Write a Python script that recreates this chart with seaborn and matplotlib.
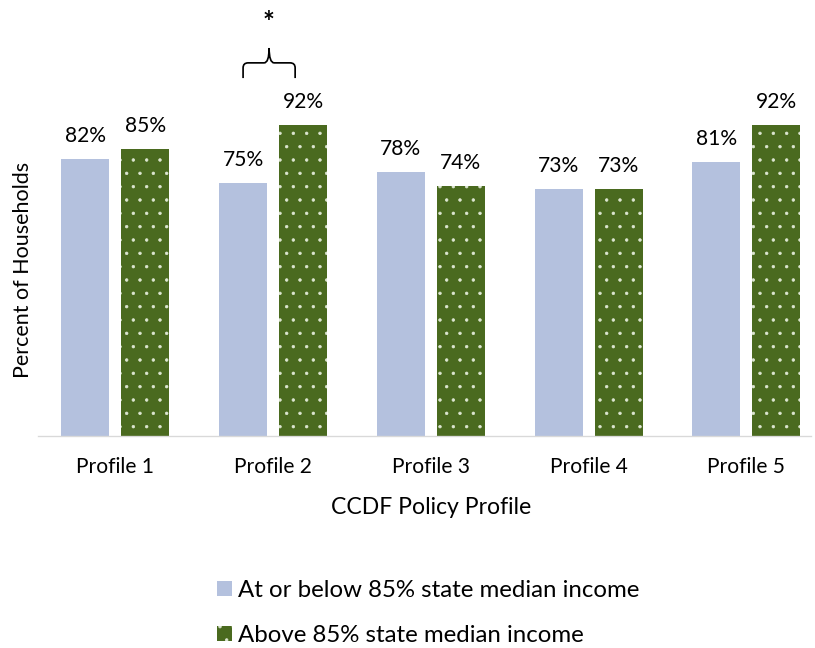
import matplotlib
matplotlib.use("Agg")
import matplotlib.pyplot as plt
from matplotlib.patches import Patch, PathPatch
from matplotlib.path import Path
import seaborn as sns
import pandas as pd

# ---- data ----
profiles = ["Profile 1", "Profile 2", "Profile 3", "Profile 4", "Profile 5"]
below_85 = [82, 75, 78, 73, 81]
above_85 = [85, 92, 74, 73, 92]
series_names = ["At or below 85% state median income", "Above 85% state median income"]
x_title = "CCDF Policy Profile"
y_title = "Percent of Households"

# ---- style ----
DPI = 80
def px(n):
    return n * 72.0 / DPI

LIGHT = "#B4C1DE"
GREEN = "#4A6A1F"
DOT = "#DDE6D2"

sns.set_style("white")
plt.rcParams["font.family"] = ["Lato", "DejaVu Sans"]
plt.rcParams["hatch.linewidth"] = 0.6
plt.rcParams["text.color"] = "black"

df = pd.DataFrame({
    "Profile": profiles * 2,
    "Percent": below_85 + above_85,
    "Income": [series_names[0]] * len(profiles) + [series_names[1]] * len(profiles),
})

fig = plt.figure(figsize=(815 / DPI, 648 / DPI), dpi=DPI)
W, H = 815, 648
ax = fig.add_axes([38 / W, (H - 436) / H, (811 - 38) / W, 436 / H])

sns.barplot(data=df, x="Profile", y="Percent", hue="Income", order=profiles,
            hue_order=series_names, palette=[LIGHT, GREEN], width=0.76, gap=0.2,
            saturation=1, errorbar=None, legend=False, ax=ax)

for bar in ax.containers[0]:
    bar.set_linewidth(0)
for bar in ax.containers[1]:
    bar.set_edgecolor(DOT)
    bar.set_linewidth(0)
    bar.set_hatch(".")

# value labels
for cont in ax.containers:
    for bar in cont:
        h = bar.get_height()
        ax.annotate(f"{h:.0f}%", (bar.get_x() + bar.get_width() / 2, h),
                    xytext=(0, px(17)), textcoords="offset points",
                    ha="center", va="baseline", fontsize=px(21), color="black")

ax.set_xlim(-0.49, 4.41)
ax.set_ylim(0, 129)
ax.set_yticks([])
ax.tick_params(axis="x", length=0, pad=px(21), labelsize=px(21), labelcolor="black")
for s in ["top", "right", "left"]:
    ax.spines[s].set_visible(False)
ax.spines["bottom"].set_color("#D9D9D9")
ax.spines["bottom"].set_linewidth(1.2)

ax.set_ylabel("")
ax.set_xlabel(x_title, fontsize=px(23), color="black", va="center")
ax.xaxis.set_label_coords((431.5 - 38) / 773, (436 - 507) / 436)
fig.text(23 / W, 1 - 270 / H, y_title, rotation=90, ha="center", va="center",
         fontsize=px(21.5), color="black")

# significance brace over Profile 2
bars2 = [ax.containers[0][1], ax.containers[1][1]]
xl = bars2[0].get_x() + bars2[0].get_width() / 2
xr = 1.14
xm = 0.975
y_end, y_bar, y_tip = 105.9, 110.4, 114.8
rx, ry = 0.032, 1.5
verts = [(xl, y_end), (xl, y_bar - ry), (xl, y_bar), (xl + rx, y_bar),
         (xm - rx, y_bar), (xm, y_bar), (xm, y_tip),
         (xm, y_bar), (xm + rx, y_bar), (xr - rx, y_bar),
         (xr, y_bar), (xr, y_bar - ry), (xr, y_end)]
codes = [Path.MOVETO, Path.LINETO, Path.CURVE3, Path.CURVE3,
         Path.LINETO, Path.CURVE3, Path.CURVE3,
         Path.CURVE3, Path.CURVE3, Path.LINETO,
         Path.CURVE3, Path.CURVE3, Path.LINETO]
ax.add_patch(PathPatch(Path(verts, codes), facecolor="none", edgecolor="black",
                       linewidth=px(1.7), clip_on=False))
ax.text(xm - 0.005, 122.3, "*", ha="center", va="center", fontsize=px(28),
        fontweight="bold", color="black")

# legend
handles = [Patch(facecolor=LIGHT, linewidth=0),
           Patch(facecolor=GREEN, edgecolor=DOT, linewidth=0, hatch=".")]
fig.legend(handles, series_names, loc="upper left",
           bbox_to_anchor=(217 / W, 1 - 580 / H), frameon=False,
           fontsize=px(24), handlelength=0.625, handleheight=0.625,
           handletextpad=0.25, labelspacing=1.0, borderpad=0, borderaxespad=0,
           labelcolor="black")

fig.savefig("out.png", dpi=DPI)
